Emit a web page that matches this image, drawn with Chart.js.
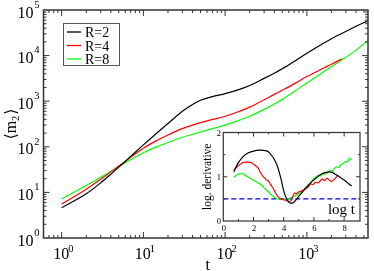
<!DOCTYPE html>
<html><head><meta charset="utf-8">
<script src="https://cdn.jsdelivr.net/npm/chart.js@4.4.1/dist/chart.umd.min.js"></script>
<style>
html,body{margin:0;padding:0;background:#fff;}
#wrap{position:relative;width:374px;height:271px;overflow:hidden;}
#main{position:absolute;left:0;top:0;}
#inset{position:absolute;left:190px;top:125px;}
</style>
</head><body>
<div id="wrap"><canvas id="main" width="374" height="271"></canvas><canvas id="inset" width="176" height="112"></canvas></div>
<script>
// ---------------- data ----------------
const seriesLabels = ['R=2', 'R=4', 'R=8'];
const seriesColors = ['#000000', '#ff0000', '#00ff00'];

// main panel: t and <m2>
const tMain = [1,2,3,4,6,10,15,20,30,40,50,70,100,150,200,300,400,500,700,1000,1500,2000,2700,4000,5500];
const mR2 = [4.62,9.33,16.2,25.1,47.9,110,209,324,603,851,1047,1259,1462,1820,2213,3162,4121,5129,7413,11220,17378,23442,30903,44157,56885];
const mR4 = [5.56,11.75,19.5,28.2,47.9,93.3,141,182,251,299,339,398,468,603,741,1072,1413,1738,2399,3467,5012,6457,8511];
const mR8 = [7.24,14.1,21.4,28.8,44.7,74.1,102,124,162,188,211,251,299,385,468,661,871,1096,1622,2512,4074,5754,8128,13183,20893];

// main axes
const xTickExps = [0,1,2,3];
const yTickExps = [0,1,2,3,4,5];
const xMinorDecades = [-1,0,1,2,3];
const yMinorDecades = [0,1,2,3,4];
const xTitle = 't';

// inset: log t vs logarithmic derivative
const lnT_R2 = [0.69,1.0,1.3,1.6,2.0,2.4,2.8,3.0,3.2,3.4,3.6,3.8,4.0,4.2,4.35,4.5,4.65,4.8,5.0,5.3,5.6,5.9,6.2,6.5,6.8,7.0,7.2,7.5,7.8,8.1,8.3,8.5];
const dR2    = [1.11,1.32,1.45,1.53,1.58,1.60,1.59,1.56,1.48,1.38,1.22,0.98,0.68,0.49,0.42,0.40,0.42,0.47,0.56,0.68,0.80,0.90,0.99,1.06,1.10,1.11,1.10,1.04,0.97,0.90,0.84,0.79];
const lnT_R4 = [0.69,0.9,1.1,1.3,1.6,1.9,2.1,2.3,2.45,2.6,2.75,2.85,3.0,3.1,3.3,3.45,3.6,3.75,3.95,4.15,4.35,4.5,4.6,4.7,4.85,5.0,5.2,5.4,5.6,5.8,5.95,6.1,6.25,6.4,6.55,6.7,6.85,7.0,7.15,7.3,7.45,7.6];
const dR4    = [1.15,1.22,1.28,1.32,1.33,1.31,1.26,1.20,1.10,1.02,0.97,0.93,0.90,0.84,0.74,0.64,0.56,0.51,0.48,0.47,0.44,0.46,0.55,0.63,0.62,0.66,0.68,0.72,0.76,0.84,0.82,0.88,0.86,0.90,0.95,0.91,0.97,0.93,0.89,0.93,0.98,1.04];
const lnT_R8 = [0.69,0.9,1.1,1.3,1.5,1.7,1.9,2.1,2.3,2.5,2.7,2.9,3.1,3.3,3.5,3.7,3.9,4.1,4.3,4.5,4.7,4.9,5.1,5.3,5.5,5.7,5.9,6.0,6.15,6.3,6.45,6.6,6.75,6.9,7.05,7.2,7.35,7.5,7.65,7.8,7.95,8.1,8.25,8.35,8.45,8.5];
const dR8    = [0.99,1.04,1.07,1.07,1.02,0.98,0.94,0.90,0.86,0.82,0.75,0.69,0.62,0.56,0.51,0.49,0.49,0.48,0.50,0.53,0.56,0.60,0.64,0.70,0.77,0.84,0.92,0.97,1.00,1.03,1.02,1.07,1.06,1.10,1.14,1.12,1.19,1.22,1.21,1.28,1.30,1.35,1.34,1.42,1.40,1.38];
const refLevel = 0.5;
const insetXMajor = [0,2,4,6,8];
const insetXMinor = [1,3,5,7,9];
const insetYMajor = [0,1,2];
const insetYMinor = [0.5,1.5];
const insetYTitle = 'log. derivative';
const insetNote = 'log t';

// ---------------- helpers ----------------
const SERIF = '"Liberation Serif","Times New Roman",serif';
function pts(xs, ys){ return ys.map((y,i)=>({x:xs[i], y:y})); }
function logMinor(decs){ const o=[]; for(const e of decs) for(let k=2;k<=9;k++) o.push(k*Math.pow(10,e)); return o; }

function frameTicks(ctx, a, xs, ys, s){
  ctx.save();
  ctx.strokeStyle = s.color; ctx.lineWidth = s.tickWidth;
  ctx.beginPath();
  const vt=(v,len)=>{ const p=xs.getPixelForValue(v); if(p<a.left+1||p>a.right-1) return;
    ctx.moveTo(p,a.bottom); ctx.lineTo(p,a.bottom-len); ctx.moveTo(p,a.top); ctx.lineTo(p,a.top+len); };
  const ht=(v,len)=>{ const p=ys.getPixelForValue(v); if(p<a.top+1||p>a.bottom-1) return;
    ctx.moveTo(a.left,p); ctx.lineTo(a.left+len,p); ctx.moveTo(a.right,p); ctx.lineTo(a.right-len,p); };
  s.xMajor.forEach(v=>vt(v,s.majLen)); s.xMinor.forEach(v=>vt(v,s.minLen));
  s.yMajor.forEach(v=>ht(v,s.majLen)); s.yMinor.forEach(v=>ht(v,s.minLen));
  ctx.stroke();
  ctx.lineWidth = s.frameWidth;
  ctx.strokeRect(a.left, a.top, a.right-a.left, a.bottom-a.top);
  ctx.restore();
}

// ---------------- main chart ----------------
const mainDeco = {
  id:'mainDeco',
  afterDraw(chart){
    const {ctx, chartArea:a} = chart; const xs=chart.scales.x, ys=chart.scales.y;
    frameTicks(ctx, a, xs, ys, {
      xMajor:xTickExps.map(e=>Math.pow(10,e)), xMinor:logMinor(xMinorDecades),
      yMajor:yTickExps.map(e=>Math.pow(10,e)), yMinor:logMinor(yMinorDecades),
      majLen:6, minLen:3, color:'#333', tickWidth:1, frameWidth:1.5});
    ctx.save(); ctx.fillStyle='#000'; ctx.textBaseline='alphabetic';
    // y labels
    yTickExps.forEach(e=>{
      const p = ys.getPixelForValue(Math.pow(10,e));
      ctx.font='16px '+SERIF; ctx.textAlign='right'; ctx.fillText('10', 33.5, p+7.5);
      ctx.font='10.5px '+SERIF; ctx.textAlign='left'; ctx.fillText(String(e), 34.3, p-2.2);
    });
    // x labels
    xTickExps.forEach(e=>{
      const p = xs.getPixelForValue(Math.pow(10,e));
      ctx.font='16px '+SERIF; ctx.textAlign='center'; ctx.fillText('10', p-0.5, 258.5);
      ctx.font='10.5px '+SERIF; ctx.textAlign='left'; ctx.fillText(String(e), p+6.5, 252);
    });
    // x title
    ctx.font='16px '+SERIF; ctx.textAlign='center'; ctx.fillText(xTitle, (a.left+a.right)/2+2, 269.5);
    // y title  <m2>
    ctx.save();
    ctx.translate(15.5, (a.top+a.bottom)/2);
    ctx.rotate(-Math.PI/2);
    const f1='16px '+SERIF, f2='10.5px '+SERIF, f3='16px "DejaVu Serif",'+SERIF;
    ctx.font=f3; const wl=ctx.measureText('\u27E8').width;
    ctx.font=f1; const wm=ctx.measureText('m').width;
    ctx.font=f2; const w2=ctx.measureText('2').width;
    ctx.font=f3; const wr=ctx.measureText('\u27E9').width;
    let x0 = -(wl+wm+w2+wr+1)/2;
    ctx.textAlign='left';
    ctx.font=f3; ctx.fillText('\u27E8', x0, 0); x0+=wl;
    ctx.font=f1; ctx.fillText('m', x0, 0); x0+=wm;
    ctx.font=f2; ctx.fillText('2', x0, 3.5); x0+=w2+1;
    ctx.font=f3; ctx.fillText('\u27E9', x0, 0);
    ctx.restore();
    // legend
    const lx=63.5, ly=23.5, lw=56, lh=42;
    ctx.strokeStyle='#555'; ctx.lineWidth=1; ctx.strokeRect(lx, ly, lw, lh);
    chart.data.datasets.forEach((d,i)=>{
      const y = 32 + i*13.5;
      ctx.strokeStyle=d.borderColor; ctx.lineWidth=1.3;
      ctx.beginPath(); ctx.moveTo(67, y); ctx.lineTo(81, y); ctx.stroke();
      ctx.fillStyle='#000'; ctx.font='14px '+SERIF; ctx.textAlign='left';
      ctx.fillText(d.label, 85, y+5);
    });
    ctx.restore();
  }
};

const mainSeries = [mR2, mR4, mR8];
new Chart(document.getElementById('main'), {
  type:'line',
  data:{ datasets: mainSeries.map((m,i)=>({
    label:seriesLabels[i], data:pts(tMain, m), borderColor:seriesColors[i],
    borderWidth:1.2, pointRadius:0, fill:false, cubicInterpolationMode:'monotone'})) },
  options:{
    responsive:false, animation:false, devicePixelRatio:1,
    layout:{padding:{top:10, right:6, left:0, bottom:0}},
    plugins:{legend:{display:false}, tooltip:{enabled:false}},
    scales:{
      x:{type:'logarithmic', min:0.616, max:5600,
         ticks:{display:false}, grid:{display:false, drawTicks:false}, border:{display:false},
         afterFit(s){ s.height = 33; }},
      y:{type:'logarithmic', min:1, max:1e5,
         ticks:{display:false}, grid:{display:false, drawTicks:false}, border:{display:false},
         afterFit(s){ s.width = 43.5; }}
    }
  },
  plugins:[mainDeco]
});

// ---------------- inset chart ----------------
const insetDeco = {
  id:'insetDeco',
  beforeDatasetsDraw(chart){
    const {ctx, chartArea:a} = chart; const ys=chart.scales.y;
    ctx.save();
    ctx.strokeStyle='#0000dd'; ctx.lineWidth=1.4; ctx.setLineDash([5,3]);
    const p = ys.getPixelForValue(refLevel);
    ctx.beginPath(); ctx.moveTo(a.left, p); ctx.lineTo(a.right, p); ctx.stroke();
    ctx.restore();
  },
  afterDraw(chart){
    const {ctx, chartArea:a} = chart; const xs=chart.scales.x, ys=chart.scales.y;
    frameTicks(ctx, a, xs, ys, {xMajor:insetXMajor, xMinor:insetXMinor, yMajor:insetYMajor, yMinor:insetYMinor,
      majLen:4, minLen:2, color:'#333', tickWidth:1, frameWidth:1.2});
    ctx.save(); ctx.fillStyle='#000'; ctx.textBaseline='alphabetic';
    ctx.font='8.5px '+SERIF;
    ctx.textAlign='center';
    insetXMajor.forEach(v=>{ ctx.fillText(String(v), xs.getPixelForValue(v)+0.5, 105.5); });
    ctx.textAlign='right';
    insetYMajor.forEach(v=>{ ctx.fillText(String(v), 31, ys.getPixelForValue(v)+3); });
    // y title
    ctx.save(); ctx.translate(20.5, (a.top+a.bottom)/2); ctx.rotate(-Math.PI/2);
    ctx.font='11.5px '+SERIF; ctx.textAlign='center'; ctx.fillText(insetYTitle, 0, 0);
    ctx.restore();
    // note
    ctx.font='15px '+SERIF; ctx.textAlign='right'; ctx.fillText(insetNote, a.right-5, 88.5);
    ctx.restore();
  }
};

const insetX = [lnT_R2, lnT_R4, lnT_R8];
const insetY = [dR2, dR4, dR8];
new Chart(document.getElementById('inset'), {
  type:'line',
  data:{ datasets: insetY.map((d,i)=>({
    label:seriesLabels[i], data:pts(insetX[i], d), borderColor:seriesColors[i],
    borderWidth:1.2, pointRadius:0, fill:false, tension:i===0?0.3:0.1})) },
  options:{
    responsive:false, animation:false, devicePixelRatio:1,
    layout:{padding:{top:7.5, right:6, left:0, bottom:0}},
    plugins:{legend:{display:false}, tooltip:{enabled:false}},
    scales:{
      x:{type:'linear', min:0, max:9.05,
         ticks:{display:false}, grid:{display:false, drawTicks:false}, border:{display:false},
         afterFit(s){ s.height = 16; }},
      y:{type:'linear', min:0, max:2,
         ticks:{display:false}, grid:{display:false, drawTicks:false}, border:{display:false},
         afterFit(s){ s.width = 33.3; }}
    }
  },
  plugins:[insetDeco]
});
</script>
</body></html>
